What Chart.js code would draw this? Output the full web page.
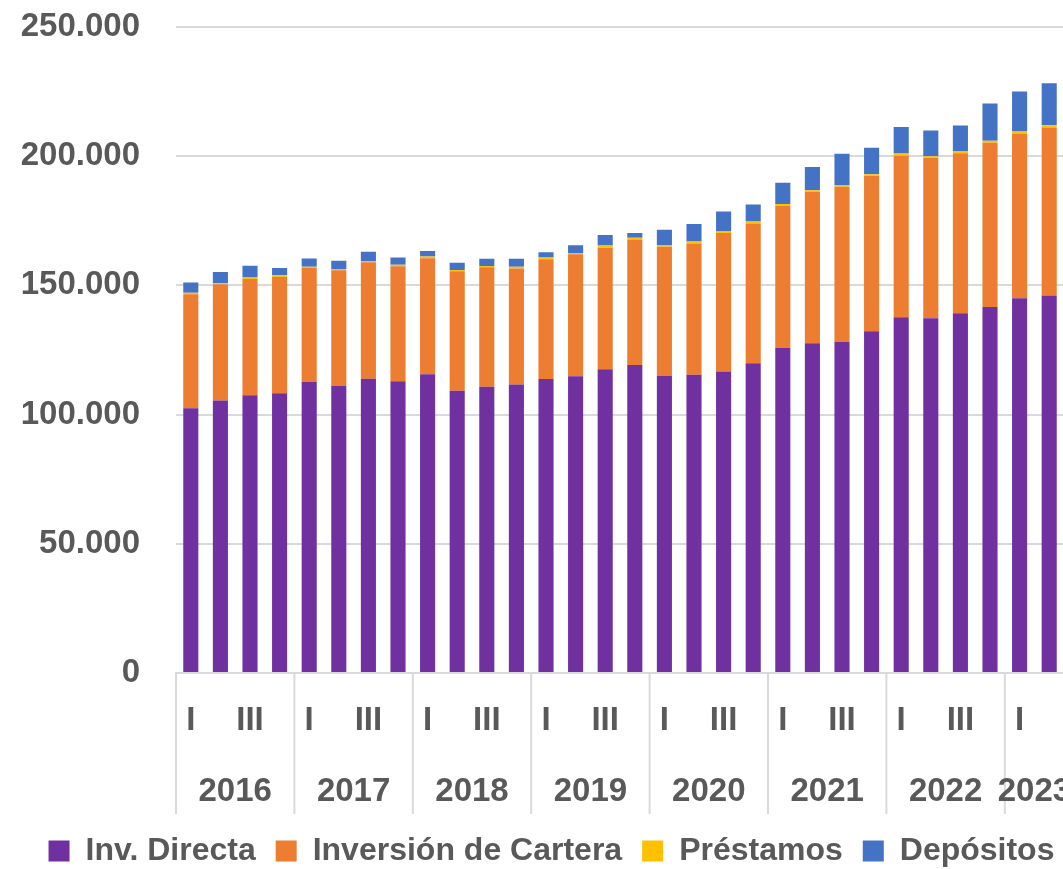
<!DOCTYPE html>
<html>
<head>
<meta charset="utf-8">
<script src="https://cdn.jsdelivr.net/npm/chart.js@4.4.1/dist/chart.umd.min.js"></script>
<style>
  html, body { margin: 0; padding: 0; background: #ffffff; overflow: hidden; }
  #wrap { position: relative; width: 1107px; height: 877px; }
</style>
</head>
<body>
<div id="wrap"><canvas id="c"></canvas></div>
<script>
// ---- data ----
const years = ['2016', '2017', '2018', '2019', '2020', '2021', '2022', '2023'];
const quartersPerYear = [4, 4, 4, 4, 4, 4, 4, 2];
const quarterNames = ['I', 'II', 'III', 'IV'];

const seriesNames = ['Inv. Directa', 'Inversión de Cartera', 'Préstamos', 'Depósitos'];

const invDirecta = [
  102400, 105400, 107500, 108200,
  112700, 111100, 113800, 112900,
  115600, 109200, 110700, 111600,
  113700, 114800, 117500, 119200,
  115000, 115400, 116600, 119800,
  125800, 127600, 128200, 132200,
  137600, 137200, 139200, 141600,
  145000, 146000
];
const invCartera = [
  44100, 45000, 44900, 45000,
  44000, 44700, 45100, 44500,
  44900, 46200, 46300, 44900,
  46400, 47200, 47000, 48500,
  49900, 50800, 53600, 54100,
  55000, 58500, 59900, 60200,
  62500, 62100, 61900, 63500,
  63700, 65000
];
const prestamos = [
  600, 400, 600, 650,
  500, 500, 500, 500,
  600, 500, 500, 650,
  600, 500, 900, 650,
  650, 770, 770, 770,
  650, 650, 650, 540,
  930, 650, 890, 770,
  770, 930
];
const depositos = [
  4000, 4300, 4600, 2800,
  3200, 3200, 3600, 2800,
  2200, 2800, 2800, 3100,
  2100, 3000, 4100, 1900,
  5900, 6700, 7600, 6600,
  8200, 9000, 12100, 10300,
  10200, 9900, 9800, 14500,
  15500, 16200
];

const yTicks = [0, 50000, 100000, 150000, 200000, 250000];

// ---- build category labels ----
const labels = [];
const groups = [];
years.forEach((y, gi) => {
  const start = labels.length;
  for (let q = 0; q < quartersPerYear[gi]; q++) labels.push(y + ' ' + quarterNames[q]);
  groups.push({ year: y, start: start, count: quartersPerYear[gi] });
});

const COLORS = ['#7030A0', '#ED7D31', '#FFC000', '#4472C4'];
const GRID = '#D9D9D9';
const TEXT = '#595959';
const FONT = 'Liberation Sans';

Chart.defaults.color = TEXT;
Chart.defaults.font.family = FONT;
Chart.defaults.font.weight = 'bold';
Chart.defaults.font.size = 33;

const AXIS_H = 142;   // space reserved under the plot for the two label rows
const SEP_H = 141;    // length of the group separator lines
const YEAR_Y = 118.5; // year label centre below the axis
const LEGEND_LEFT = 23;
const LEGEND_RIGHT = 1080;

const yearPlugin = {
  id: 'yearGroups',
  afterLayout(chart) {
    // centre the legend on the full (uncropped) figure width
    if (chart.legend) {
      chart.legend.left = LEGEND_LEFT;
      chart.legend.right = LEGEND_RIGHT;
    }
  },
  afterDraw(chart) {
    const xs = chart.scales.x;
    const ctx = chart.ctx;
    const half = (xs.getPixelForValue(1) - xs.getPixelForValue(0)) / 2;
    const top = xs.top;
    ctx.save();
    ctx.strokeStyle = GRID;
    ctx.lineWidth = 2;
    groups.forEach((g, i) => {
      const left = xs.getPixelForValue(g.start) - half;
      ctx.beginPath();
      ctx.moveTo(left, top);
      ctx.lineTo(left, top + SEP_H);
      ctx.stroke();
      if (i === groups.length - 1) {
        const right = xs.getPixelForValue(g.start + g.count - 1) + half;
        ctx.beginPath();
        ctx.moveTo(right, top);
        ctx.lineTo(right, top + SEP_H);
        ctx.stroke();
      }
    });
    ctx.fillStyle = TEXT;
    ctx.font = 'bold 33px "' + FONT + '"';
    ctx.textAlign = 'center';
    ctx.textBaseline = 'middle';
    groups.forEach(g => {
      const cx = (xs.getPixelForValue(g.start) + xs.getPixelForValue(g.start + g.count - 1)) / 2;
      ctx.fillText(g.year, cx, top + YEAR_Y);
    });
    ctx.restore();
  }
};

const datasets = [invDirecta, invCartera, prestamos, depositos].map((d, i) => ({
  label: seriesNames[i],
  data: d,
  backgroundColor: COLORS[i],
  borderWidth: 0,
  categoryPercentage: 1.0,
  barPercentage: 0.51,
  stack: 's'
}));

new Chart(document.getElementById('c'), {
  type: 'bar',
  data: { labels: labels, datasets: datasets },
  plugins: [yearPlugin],
  options: {
    responsive: true,
    maintainAspectRatio: false,
    animation: false,
    layout: { padding: { left: 0, right: 43, top: 0, bottom: 0 } },
    plugins: {
      tooltip: { enabled: false },
      legend: {
        position: 'bottom',
        labels: {
          boxWidth: 21,
          boxHeight: 21,
          padding: 20,
          color: TEXT,
          font: { size: 32, weight: 'bold', family: FONT }
        }
      }
    },
    scales: {
      x: {
        stacked: true,
        grid: { display: false, drawTicks: false },
        border: { display: true, color: GRID, width: 2 },
        afterFit(scale) { scale.height = AXIS_H; },
        ticks: {
          autoSkip: false,
          maxRotation: 0,
          padding: 28,
          font: { size: 33, weight: 'bold', family: FONT },
          callback(v, i) {
            if (i % 2 !== 0) return '';
            return labels[i].split(' ')[1];
          }
        }
      },
      y: {
        stacked: true,
        min: 0,
        max: 250000,
        afterBuildTicks(scale) { scale.ticks = yTicks.map(v => ({ value: v })); },
        afterFit(scale) { scale.width = 176; },
        grid: { color: GRID, lineWidth: 2, drawTicks: true, tickLength: 29, tickColor: 'rgba(0,0,0,0)' },
        border: { display: false },
        ticks: {
          padding: 7,
          font: { size: 33, weight: 'bold', family: FONT },
          callback(v) { return v.toLocaleString('de-DE'); }
        }
      }
    }
  }
});
</script>
</body>
</html>
